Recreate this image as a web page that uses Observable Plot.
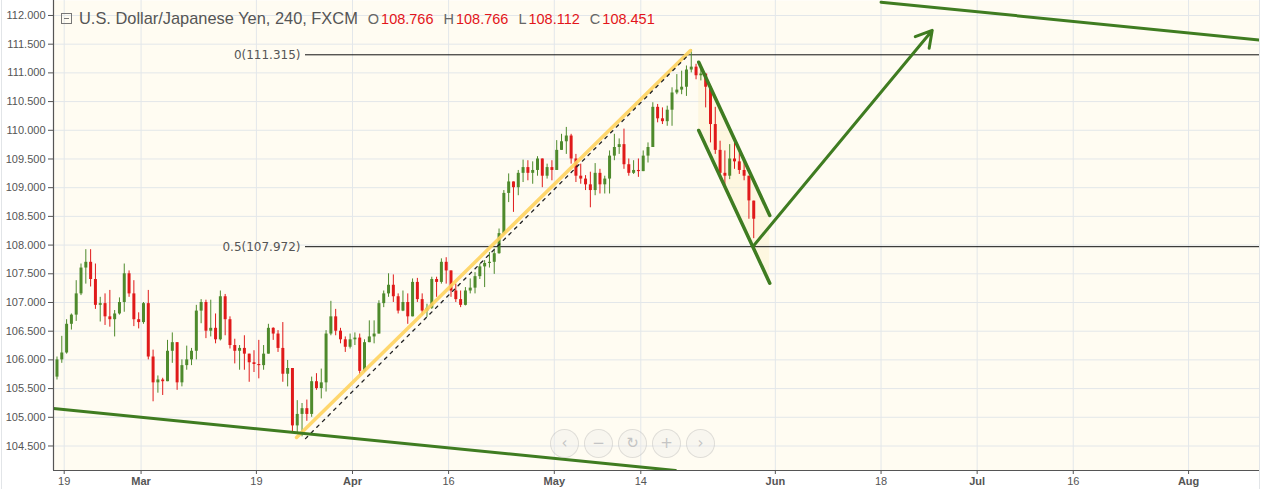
<!DOCTYPE html>
<html><head><meta charset="utf-8">
<script src="https://cdn.jsdelivr.net/npm/d3@7"></script>
<script src="https://cdn.jsdelivr.net/npm/@observablehq/plot@0.6"></script>
<style>
html,body{margin:0;padding:0;background:#fff;}
#wrap{position:relative;width:1261px;height:489px;overflow:hidden;}
#wrap svg{position:absolute;left:0;top:0;}
#legend{position:absolute;left:61px;top:9px;font-family:"Liberation Sans",Arial,sans-serif;color:#555;white-space:nowrap;display:flex;align-items:center;}
#legend .ico{display:inline-block;width:9px;height:9px;border:1px solid #777;position:relative;margin-right:7px;}
#legend .ico:after{content:"";position:absolute;left:2px;right:2px;top:4px;height:1px;background:#777;}
#legend .ttl{font-size:16.4px;}
#legend .k{font-size:14.5px;margin-left:10px;color:#666;}
#legend .v{font-size:14.5px;color:#e3151a;margin-left:2px;}
.nav{position:absolute;width:27px;height:27px;border-radius:50%;border:1px solid rgba(0,0,0,0.10);background:rgba(235,235,235,0.35);color:#c4c4c4;font-family:"DejaVu Sans",sans-serif;font-size:15px;line-height:27px;text-align:center;}
.bl{position:absolute;top:0;width:1px;height:489px;background:#e2e5e8;}
</style></head><body>
<div id="wrap"></div>
<script>
// ---------- data ----------
const symbolTitle = "U.S. Dollar/Japanese Yen, 240, FXCM";
const lastBar = {O: "108.766", H: "108.766", L: "108.112", C: "108.451"};
const firstSession = "2018-02-19";

// 12-hour candles (two per trading day), first two are late Feb-16 bars
const open = [105.70,106.00,106.12,106.62,106.78,107.15,107.60,107.70,107.40,106.95,106.98,106.75,106.70,106.80,107.00,107.50,107.15,106.70,106.65,106.98,106.05,105.60,105.65,105.62,106.15,106.30,105.60,105.90,106.00,106.15,106.85,107.00,106.50,106.55,106.35,107.10,106.70,106.25,106.15,106.20,106.10,105.95,105.92,105.90,106.10,106.55,106.45,106.20,105.75,105.85,104.85,105.05,105.15,105.05,105.62,105.50,105.60,106.45,106.75,106.50,106.35,106.22,106.35,106.38,105.80,106.30,106.40,106.45,106.98,107.15,107.30,107.10,106.85,107.00,106.75,107.35,107.05,106.85,106.90,107.40,107.35,107.70,107.55,107.20,107.05,106.95,107.20,107.25,107.45,107.62,107.68,107.70,107.85,108.20,108.90,109.10,109.00,109.25,109.35,109.25,109.30,109.50,109.20,109.35,109.30,109.65,109.80,109.90,109.50,109.20,109.15,109.05,108.95,109.25,109.05,109.15,109.55,109.70,109.75,109.40,109.25,109.30,109.28,109.55,109.70,110.40,110.20,110.15,110.35,110.65,110.70,110.75,111.05,111.10,110.95,110.98,110.75,110.10,109.65,109.25,109.20,109.50,109.45,109.30,109.20,108.766];
const high = [106.05,106.41,106.70,106.80,107.38,107.67,107.92,107.92,107.67,107.09,107.15,107.21,106.86,107.08,107.67,107.55,107.38,106.82,107.00,107.21,106.17,105.72,105.68,106.34,106.47,106.30,106.00,106.24,106.20,106.95,107.05,107.04,107.04,106.80,107.20,107.14,106.75,106.36,106.25,106.42,106.10,106.16,106.34,106.25,106.62,106.56,106.51,106.65,105.99,105.85,105.29,105.24,105.30,105.70,105.76,105.84,106.51,107.02,106.88,106.55,106.40,106.45,106.47,106.45,106.35,106.68,106.68,107.03,107.20,107.50,107.48,107.15,107.20,107.15,107.41,107.42,107.15,106.97,107.44,107.44,107.76,107.78,107.55,107.32,107.20,107.26,107.41,107.52,107.67,107.73,107.87,107.93,108.28,108.95,109.24,109.10,109.30,109.48,109.47,109.45,109.54,109.50,109.41,109.47,109.82,109.93,110.05,109.93,109.58,109.41,109.21,109.27,109.42,109.32,109.20,109.64,109.93,109.85,110.02,109.50,109.47,109.50,109.64,109.78,110.48,110.45,110.39,110.42,110.74,110.97,111.03,111.12,111.40,111.15,111.12,110.98,110.75,110.40,109.81,109.64,109.75,109.78,109.60,109.46,109.20,108.766];
const low = [105.65,105.94,106.10,106.52,106.67,107.12,107.32,107.27,106.88,106.66,106.60,106.57,106.40,106.78,106.83,107.09,106.58,106.54,106.62,106.00,105.27,105.42,105.38,105.62,105.94,105.47,105.53,105.82,105.90,106.00,106.63,106.37,106.40,106.28,106.33,106.42,106.19,105.93,105.82,105.82,105.61,105.78,105.67,105.82,106.10,106.34,106.13,105.61,105.53,104.72,104.72,104.66,104.93,105.00,105.47,105.32,105.44,106.42,106.42,106.28,106.13,106.19,106.25,105.73,105.78,106.30,106.28,106.45,106.91,107.09,107.00,106.80,106.84,106.62,106.75,107.00,106.77,106.74,106.88,107.09,107.32,107.32,107.09,107.00,106.91,106.94,107.15,107.15,107.40,107.26,107.60,107.49,107.84,108.19,108.74,108.57,108.86,109.09,109.12,109.06,109.20,109.00,109.15,109.12,109.30,109.65,109.58,109.41,109.09,109.06,108.95,108.65,108.86,108.89,108.89,108.89,109.47,109.58,109.32,109.20,109.23,109.18,109.28,109.43,109.70,110.13,110.10,110.07,110.07,110.62,110.62,110.59,111.00,110.88,110.86,110.39,109.78,109.58,109.17,108.97,109.14,109.32,109.23,109.12,108.45,108.112];
const close = [106.00,106.12,106.62,106.78,107.15,107.60,107.70,107.40,106.95,106.98,106.75,106.70,106.80,107.00,107.50,107.15,106.70,106.65,106.98,106.05,105.60,105.65,105.62,106.15,106.30,105.60,105.90,106.00,106.15,106.85,107.00,106.50,106.55,106.35,107.10,106.70,106.25,106.15,106.20,106.10,105.95,105.92,105.90,106.10,106.55,106.45,106.20,105.75,105.85,104.85,105.05,105.15,105.05,105.62,105.50,105.60,106.45,106.75,106.50,106.35,106.22,106.35,106.38,105.80,106.30,106.40,106.45,106.98,107.15,107.30,107.10,106.85,107.00,106.75,107.35,107.05,106.85,106.90,107.40,107.35,107.70,107.55,107.20,107.05,106.95,107.20,107.25,107.45,107.62,107.68,107.70,107.85,108.20,108.90,109.10,109.00,109.25,109.35,109.25,109.30,109.50,109.20,109.35,109.30,109.65,109.80,109.90,109.50,109.20,109.15,109.05,108.95,109.25,109.05,109.15,109.55,109.70,109.75,109.40,109.25,109.30,109.28,109.55,109.70,110.40,110.20,110.15,110.35,110.65,110.70,110.75,111.05,111.10,110.95,110.98,110.75,110.10,109.65,109.25,109.20,109.50,109.45,109.30,109.20,108.77,108.451];

// x axis ticks
const tickDates = ["2018-02-19","2018-03-01","2018-03-19","2018-04-02","2018-04-16","2018-05-01","2018-05-14","2018-06-01","2018-06-18","2018-07-02","2018-07-16","2018-08-01"];
const tickLabels = ["19","Mar","19","Apr","16","May","14","Jun","18","Jul","16","Aug"];
const tickIsMonth = [false,true,false,true,false,true,false,true,false,true,false,true];
const priceTicks = [104.5,105,105.5,106,106.5,107,107.5,108,108.5,109,109.5,110,110.5,111,111.5,112];

// drawings (trading-day index, price)
const fibLevels = [0, 0.5];
const fibPrices = [111.315, 107.972];
const fibStart = 25.11;
const lowerTrendX = [-1.11, 63.61], lowerTrendY = [105.153, 104.073];
const upperTrendX = [85.0, 124.5], upperTrendY = [112.232, 111.572];
const yellowX = [24.18, 65.17], yellowY = [104.648, 111.39];
const dashX = [25.11, 64.97], dashY = [104.629, 111.315];
const chanX = [66.03, 73.42], chanTopY = [111.186, 108.516], chanBotY = [109.997, 107.336];
const arrowX = [71.76, 90.32], arrowY = [107.993, 111.739];

// ---------- build ----------
const green = "#4e8a2c", red = "#e01a1a", drawGreen = "#3f7c21";
const xDomain = [-1.113, 124.38];
const yDomain = [104.073, 112.261];

function tradingIndex(s) {
  const a = new Date(firstSession + "T00:00:00Z"), b = new Date(s + "T00:00:00Z");
  let n = 0;
  for (let d = new Date(a); d < b; d.setUTCDate(d.getUTCDate() + 1)) {
    const w = d.getUTCDay();
    if (w !== 0 && w !== 6) n++;
  }
  return n;
}
const ticks = tickDates.map((d, i) => ({x: tradingIndex(d), label: tickLabels[i], month: tickIsMonth[i]}));

const bars = open.map((o, i) => ({x: (i - 2) / 2 + 0.25, o, h: high[i], l: low[i], c: close[i], up: close[i] >= o}));
const fibs = fibLevels.map((f, i) => ({p: fibPrices[i], label: `${f}(${fibPrices[i].toFixed(3)})`}));
const pts = (xs, ys) => xs.map((x, i) => ({x, y: ys[i]}));
const chan = chanX.map((x, i) => ({x, y1: chanBotY[i], y2: chanTopY[i]}));
const chanLines = [...pts(chanX, chanTopY).map(d => ({...d, z: "t"})), ...pts(chanX, chanBotY).map(d => ({...d, z: "b"}))];

const monthTicks = ticks.filter(t => t.month), dayTicks = ticks.filter(t => !t.month);
const lbl = new Map(ticks.map(t => [t.x, t.label]));

const chart = Plot.plot({
  width: 1261, height: 489,
  marginLeft: 53, marginRight: 2, marginTop: 0, marginBottom: 19,
  style: {fontFamily: "'Liberation Sans', Arial, sans-serif", background: "transparent"},
  x: {type: "linear", domain: xDomain, axis: null},
  y: {domain: yDomain, axis: null},
  marks: [
    Plot.frame({fill: "#fffcf2", stroke: null}),
    Plot.gridY(priceTicks, {stroke: "#e3e7ea", strokeOpacity: 1}),
    Plot.gridX(ticks.map(t => t.x), {stroke: "#e3e7ea", strokeOpacity: 1}),
    Plot.areaY(chan, {x: "x", y1: "y1", y2: "y2", fill: "#fbeec0", fillOpacity: 0.35}),
    Plot.ruleY(fibs, {y: "p", x1: fibStart, x2: xDomain[1], stroke: "#111", strokeWidth: 1}),
    Plot.text(fibs, {x: fibStart, y: "p", text: "label", textAnchor: "end", dx: -5, fontFamily: "'DejaVu Sans', sans-serif", fontSize: 12, fill: "#555"}),
    Plot.ruleX(bars, {x: "x", y1: "l", y2: "h", stroke: d => d.up ? green : red, strokeWidth: 1}),
    Plot.ruleX(bars, {x: "x", y1: "o", y2: "c", stroke: d => d.up ? green : red, strokeWidth: 3}),
    Plot.line(pts(yellowX, yellowY), {x: "x", y: "y", stroke: "#ffd35e", strokeWidth: 3.5, strokeOpacity: 0.9}),
    Plot.line(pts(dashX, dashY), {x: "x", y: "y", stroke: "#222", strokeWidth: 1.3, strokeDasharray: "3,5"}),
    Plot.line(pts(lowerTrendX, lowerTrendY), {x: "x", y: "y", stroke: drawGreen, strokeWidth: 3, clip: true}),
    Plot.line(pts(upperTrendX, upperTrendY), {x: "x", y: "y", stroke: drawGreen, strokeWidth: 3, clip: true}),
    Plot.line(chanLines, {x: "x", y: "y", z: "z", stroke: drawGreen, strokeWidth: 3.5}),
    Plot.arrow([{x1: arrowX[0], y1: arrowY[0], x2: arrowX[1], y2: arrowY[1]}], {x1: "x1", y1: "y1", x2: "x2", y2: "y2", stroke: drawGreen, strokeWidth: 3, headLength: 9, headAngle: 60}),
    Plot.ruleX([xDomain[0]], {stroke: "#555", strokeWidth: 1.2}),
    Plot.ruleY([yDomain[0]], {stroke: "#555", strokeWidth: 1.2}),
    Plot.axisY(priceTicks, {anchor: "left", tickFormat: d3.format(".3f"), tickSize: 5, tickPadding: 3, fontSize: 11, color: "#555"}),
    Plot.axisX(dayTicks.map(t => t.x), {anchor: "bottom", tickFormat: x => lbl.get(x), tickSize: 4, tickPadding: 3, fontSize: 11, color: "#555"}),
    Plot.axisX(monthTicks.map(t => t.x), {anchor: "bottom", tickFormat: x => lbl.get(x), tickSize: 4, tickPadding: 3, fontSize: 11, fontWeight: "bold", color: "#555"})
  ]
});

const wrap = document.getElementById("wrap");
wrap.appendChild(chart);

// legend overlay
const lg = document.createElement("div");
lg.id = "legend";
lg.innerHTML = `<span class="ico"></span><span class="ttl">${symbolTitle}</span>` +
  ["O","H","L","C"].map(k => `<span class="k">${k}</span><span class="v">${lastBar[k]}</span>`).join("");
wrap.appendChild(lg);

// navigation buttons
const navGlyphs = ["‹", "−", "↻", "+", "›"];
navGlyphs.forEach((g, i) => {
  const b = document.createElement("div");
  b.className = "nav";
  b.style.left = (550 + i * 34) + "px";
  b.style.top = "429px";
  b.textContent = g;
  wrap.appendChild(b);
});
["1px", "1259px"].forEach(l => { const d = document.createElement("div"); d.className = "bl"; d.style.left = l; wrap.appendChild(d); });
</script>
</body></html>
